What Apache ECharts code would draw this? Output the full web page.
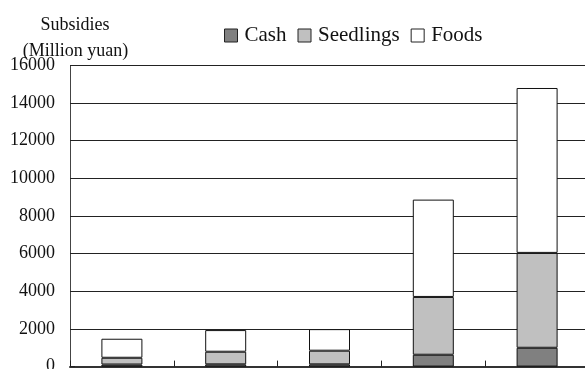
<!DOCTYPE html>
<html>
<head>
<meta charset="utf-8">
<script src="https://cdn.jsdelivr.net/npm/echarts@6/dist/echarts.min.js"></script>
<style>
  html, body { margin: 0; padding: 0; background: #fff; }
  #chart { width: 585px; height: 369px; }
</style>
</head>
<body>
<div id="chart"></div>
<script>
// Subsidies by component, stacked per period (million yuan)
const categories = ['I', 'II', 'III', 'IV', 'V'];
const cash = [110, 120, 120, 630, 1000];
const seedlings = [360, 670, 725, 3070, 5040];
const foods = [1010, 1150, 1145, 5170, 8760];
const yTicks = { min: 0, max: 16000, interval: 2000 };

const FONT = '"Liberation Serif", "DejaVu Serif", serif';

const chart = echarts.init(document.getElementById('chart'), null, { renderer: 'canvas' });

function barSeries(name, data, color) {
  return {
    name: name,
    type: 'bar',
    stack: 'total',
    data: data,
    barWidth: 41,
    itemStyle: { color: color, borderColor: '#111', borderWidth: 1 },
    emphasis: { disabled: true }
  };
}

chart.setOption({
  animation: false,
  backgroundColor: '#fff',
  textStyle: { fontFamily: FONT },
  graphic: [
    {
      type: 'text', silent: true,
      style: { text: 'Subsidies', x: 75, y: 25, fontFamily: FONT, fontSize: 18, fill: '#111', align: 'center', verticalAlign: 'middle' }
    },
    {
      type: 'text', silent: true,
      style: { text: '(Million yuan)', x: 75.5, y: 51, fontFamily: FONT, fontSize: 18, fill: '#111', align: 'center', verticalAlign: 'middle' }
    }
  ],
  legend: {
    data: ['Cash', 'Seedlings', 'Foods'],
    left: 219,
    top: 20,
    itemWidth: 13,
    itemHeight: 13,
    itemGap: 11,
    icon: 'rect',
    textStyle: { fontFamily: FONT, fontSize: 21, color: '#111', padding: [0, 0, 0, 2] },
    itemStyle: { borderColor: '#222', borderWidth: 1 }
  },
  grid: { left: 70, right: -4, top: 65.4, bottom: 2.4, containLabel: false, outerBoundsMode: 'none' },
  xAxis: {
    type: 'category',
    data: categories,
    axisLine: { lineStyle: { color: '#333', width: 2 } },
    axisTick: { show: true, inside: true, length: 6, lineStyle: { color: '#222' } },
    axisLabel: { show: false },
    splitLine: { show: false }
  },
  yAxis: {
    type: 'value',
    min: yTicks.min,
    max: yTicks.max,
    interval: yTicks.interval,
    axisLine: { show: true, lineStyle: { color: '#444', width: 1 } },
    axisTick: { show: true, inside: true, length: 5, lineStyle: { color: '#222' } },
    axisLabel: { fontFamily: FONT, fontSize: 18, color: '#111', margin: 15, formatter: v => String(v) },
    splitLine: { show: true, lineStyle: { color: '#222', width: 1 } }
  },
  series: [
    barSeries('Cash', cash, '#808080'),
    barSeries('Seedlings', seedlings, '#c0c0c0'),
    barSeries('Foods', foods, '#ffffff')
  ]
});
</script>
</body>
</html>
